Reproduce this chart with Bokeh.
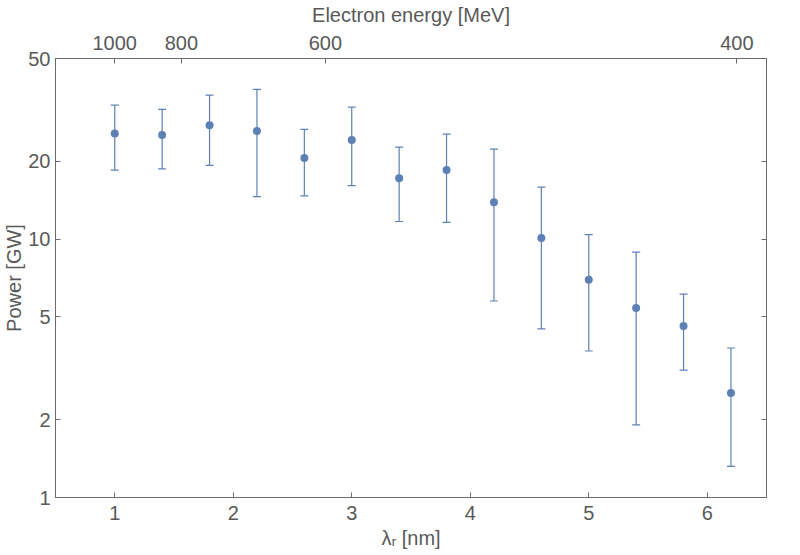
from bokeh.plotting import figure
from bokeh.models import (LinearAxis, LogAxis, FixedTicker, Whisker, TeeHead,
                          ColumnDataSource, CustomJSTickFormatter, Range1d)
from bokeh.embed import file_html
from bokeh.resources import INLINE

# Data
wavelength = [1.0, 1.4, 1.8, 2.2, 2.6, 3.0, 3.4, 3.8, 4.2, 4.6, 5.0, 5.4, 5.8, 6.2]
power = [25.6, 25.3, 27.6, 26.2, 20.6, 24.2, 17.2, 18.5, 13.9, 10.1, 6.96, 5.41, 4.61, 2.54]
power_hi = [33.0, 31.8, 36.1, 38.0, 26.6, 32.4, 22.7, 25.5, 22.3, 15.9, 10.4, 8.91, 6.13, 3.79]
power_lo = [18.5, 18.7, 19.3, 14.6, 14.7, 16.1, 11.7, 11.6, 5.76, 4.49, 3.69, 1.91, 3.11, 1.32]

x_ticks = [1, 2, 3, 4, 5, 6]
y_ticks = [1, 2, 5, 10, 20, 50]
energy_ticks = [1000, 800, 600, 400]  # MeV; lambda = 1e6 / E^2 nm
energy_tick_pos = [1e6 / e ** 2 for e in energy_ticks]

COLOR = "#5E81B5"
TXT = "#595959"
AX = "#6b6b6b"
FONT = "Liberation Sans"
FS = "20px"

src = ColumnDataSource(dict(x=wavelength, y=power, lo=power_lo, hi=power_hi))

p = figure(output_backend="svg", toolbar_location=None,
           y_axis_type="log",
           x_range=Range1d(0.5, 6.5), y_range=Range1d(1, 50),
           frame_width=711, frame_height=439,
           min_border_left=10, min_border_right=17,
           min_border_top=10, min_border_bottom=4,
           x_axis_label="λᵣ [nm]", y_axis_label="Power [GW]")

p.grid.visible = False
p.outline_line_color = AX
p.background_fill_color = "white"
p.border_fill_color = "white"

def style(ax, labels=True):
    ax.axis_line_color = AX
    ax.major_tick_line_color = AX
    ax.major_tick_in = 5
    ax.major_tick_out = 0
    ax.minor_tick_line_color = None
    ax.major_label_text_color = TXT
    ax.major_label_text_font = FONT
    ax.major_label_text_font_size = FS if labels else "0px"
    ax.axis_label_text_color = TXT
    ax.axis_label_text_font = FONT
    ax.axis_label_text_font_size = FS
    ax.axis_label_text_font_style = "normal"

xa = p.xaxis[0]
xa.ticker = FixedTicker(ticks=x_ticks, minor_ticks=[])
style(xa)
xa.major_label_standoff = 8
xa.axis_label_standoff = 4

ya = p.yaxis[0]
ya.ticker = FixedTicker(ticks=y_ticks, minor_ticks=[])
style(ya)
ya.major_label_standoff = 5
ya.axis_label_standoff = 0

top = LinearAxis(axis_label="Electron energy [MeV]",
                 ticker=FixedTicker(ticks=energy_tick_pos, minor_ticks=[]),
                 formatter=CustomJSTickFormatter(code="return Math.round(Math.sqrt(1e6/tick)).toString();"))
style(top)
top.major_label_standoff = 9
top.axis_label_standoff = 7
p.add_layout(top, "above")

right = LogAxis(ticker=FixedTicker(ticks=y_ticks, minor_ticks=[]),
                formatter=CustomJSTickFormatter(code="return '';"))
style(right, labels=False)
right.major_label_standoff = 0
p.add_layout(right, "right")

p.add_layout(Whisker(source=src, base="x", lower="lo", upper="hi", dimension="height",
                     line_color=COLOR, line_width=1.2,
                     lower_head=TeeHead(size=8, line_color=COLOR, line_width=1.2),
                     upper_head=TeeHead(size=8, line_color=COLOR, line_width=1.2)))
p.scatter("x", "y", source=src, size=8, color=COLOR, line_color=None)

open("out.html", "w").write(file_html(p, INLINE))
